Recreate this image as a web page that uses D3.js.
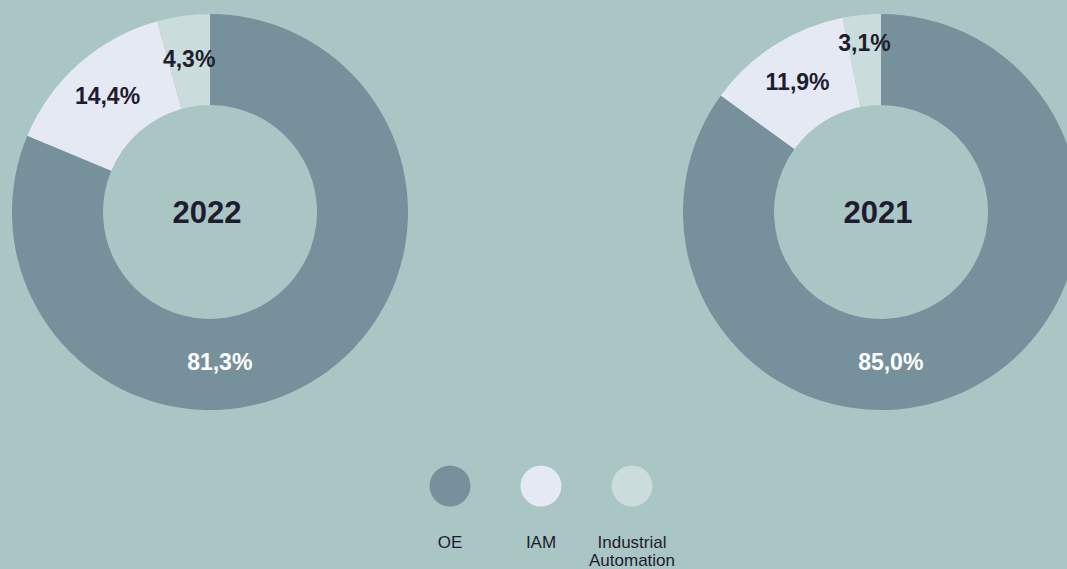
<html>

<head>
  <title>Sales by segment donuts</title>
  <script src="https://d3js.org/d3.v7.min.js"></script>
  <style>
    body {
      margin: 0;
      background: #a9c5c4;
    }

    svg text {
      font-family: "Liberation Sans", Arial, Helvetica, sans-serif;
    }

    .pct {
      font-size: 23px;
      font-weight: 700;
      text-anchor: middle;
    }

    .year {
      font-size: 31px;
      font-weight: 700;
      fill: #1e1c2e;
      text-anchor: middle;
    }

    .legend-label {
      font-size: 17px;
      fill: #1e1c2e;
      text-anchor: middle;
    }
  </style>
</head>

<body>
  <svg id="chart" width="1067" height="569"></svg>

  <script>
    // Data
    const segments = ["OE", "IAM", "Industrial Automation"];
    const years = ["2022", "2021"];
    const shares2022 = [81.3, 14.4, 4.3];
    const shares2021 = [85.0, 11.9, 3.1];
    const legendLines = [["OE"], ["IAM"], ["Industrial", "Automation"]];

    const svg = d3.select("#chart");
    const width = +svg.attr("width");
    const height = +svg.attr("height");

    const colors = d3.scaleOrdinal()
      .domain(segments)
      .range(["#76919c", "#e5e9f4", "#cadcdb"]);
    const labelColor = d3.scaleOrdinal()
      .domain(segments)
      .range(["#ffffff", "#1e1c2e", "#1e1c2e"]);

    // the two donuts sit at the left and right ends of the page
    const xPos = d3.scalePoint().domain(years).range([210, 881]);
    const cy = 212;
    const outerR = 198;
    const innerR = 107;

    const pie = d3.pie().sort(null).value(d => d.value);
    const arc = d3.arc().innerRadius(innerR).outerRadius(outerR);

    const donuts = [
      { year: "2022", values: shares2022 },
      { year: "2021", values: shares2021 }
    ];

    donuts.forEach(dn => {
      const rows = segments.map((s, i) => ({ segment: s, value: dn.values[i] }));
      const arcs = pie(rows);
      const g = svg.append("g")
        .attr("transform", "translate(" + xPos(dn.year) + "," + cy + ")");

      g.selectAll("path.slice").data(arcs)
        .join("path")
        .attr("class", "slice")
        .attr("fill", d => colors(d.data.segment))
        .attr("d", arc);

      // labels: big slice goes at the bottom, small ones at their centroid
      g.selectAll("text.pct").data(arcs)
        .join("text")
        .attr("class", "pct")
        .attr("fill", d => labelColor(d.data.segment))
        .attr("transform", d => {
          let a, r;
          if (d.data.value > 50) {
            a = Math.PI - 0.065;
            r = 150;
          } else {
            a = (d.startAngle + d.endAngle) / 2;
            r = d.data.value < 4 ? 170 : 155;
          }
          return "translate(" + (Math.sin(a) * r) + "," + (-Math.cos(a) * r) + ")";
        })
        .attr("dy", "0.36em")
        .text(d => d3.format(".1f")(d.data.value).replace(".", ",") + "%");

      g.append("text")
        .attr("class", "year")
        .attr("x", -3)
        .attr("dy", "0.36em")
        .text(dn.year);
    });

    // Legend
    const legendX = d3.scalePoint().domain(segments).range([450, 632]);
    const legend = svg.append("g");

    legend.selectAll("circle").data(segments)
      .join("circle")
      .attr("cx", d => legendX(d))
      .attr("cy", 486)
      .attr("r", 20.5)
      .attr("fill", d => colors(d));

    legend.selectAll("text").data(segments)
      .join("text")
      .attr("class", "legend-label")
      .attr("x", d => legendX(d))
      .attr("y", 548)
      .each(function (d, i) {
        d3.select(this).selectAll("tspan").data(legendLines[i])
          .join("tspan")
          .attr("x", legendX(d))
          .attr("dy", (t, j) => j === 0 ? 0 : 18)
          .text(t => t);
      });
  </script>
</body>

</html>
